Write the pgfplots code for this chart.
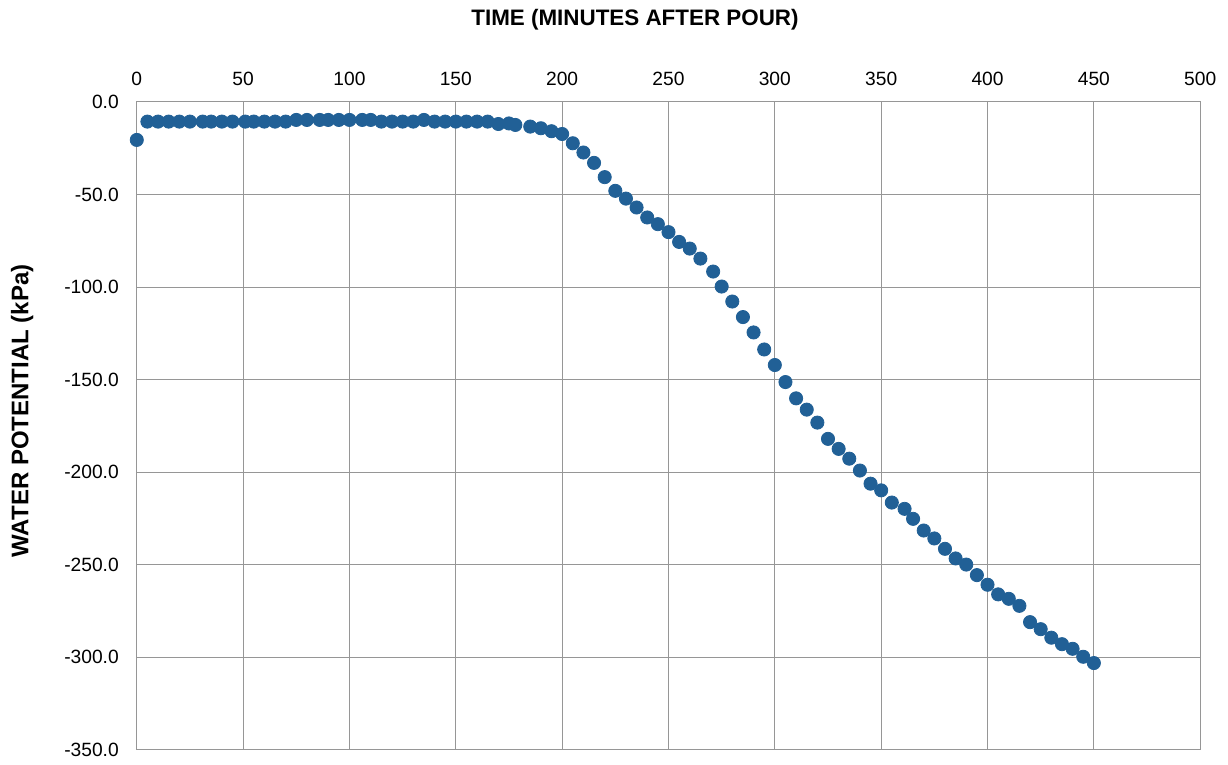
\documentclass[border=0pt]{standalone}
\usepackage{pgfplots}
\pgfplotsset{compat=1.18}
\usepackage{fontspec}
\setmainfont{Liberation Sans}
\definecolor{ptblue}{RGB}{33,96,150}
\definecolor{gridgray}{RGB}{150,150,150}
\begin{document}
\begin{tikzpicture}
\begin{axis}[
  scale only axis,
  width=531.8pt, height=324pt,
  xmin=0, xmax=500, ymin=-350, ymax=0,
  xtick={0,50,...,500},
  xticklabels={0,50,100,150,200,250,300,350,400,450,500},
  ytick={-350,-300,...,0},
  yticklabels={-350.0,-300.0,-250.0,-200.0,-150.0,-100.0,-50.0,0.0},
  xticklabel pos=upper,
  major tick length=0pt,
  grid=major,
  grid style={draw=gridgray, line width=0.5pt},
  axis line style={draw=gridgray, line width=0.5pt},
  tick label style={font=\fontsize{9.6pt}{11pt}\selectfont},
  xticklabel style={yshift=4.5pt},
  yticklabel style={xshift=-5.5pt},
  xlabel={\textbf{TIME (MINUTES AFTER POUR)}},
  ylabel={\textbf{WATER POTENTIAL (kPa)}},
  xlabel style={font=\fontsize{11.2pt}{13pt}\selectfont, at={(axis description cs:0.4685,1.1265)}, anchor=center},
  ylabel style={font=\fontsize{12pt}{14pt}\selectfont, at={(axis description cs:-0.1078,0.523)}, anchor=center},
  clip=false,
]
\addplot[only marks, mark=*, mark size=3.3pt, mark options={draw=ptblue, fill=ptblue}] coordinates {
(0,-20.5) (5,-10.6) (10,-10.6) (15,-10.6) (20,-10.6) (25,-10.6) (31,-10.6) (35,-10.6)
(40,-10.6) (45,-10.6) (51,-10.6) (55,-10.6) (60,-10.6) (65,-10.6) (70,-10.6) (75,-9.7)
(80,-9.7) (86,-9.7) (90,-9.7) (95,-9.7) (100,-9.7) (106,-9.7) (110,-9.7) (115,-10.6)
(120,-10.6) (125,-10.6) (130,-10.6) (135,-9.7) (140,-10.6) (145,-10.6) (150,-10.6)
(155,-10.6) (160,-10.6) (165,-10.6) (170,-11.9) (175,-11.6) (178,-12.4) (185,-13.3)
(190,-14.2) (195,-15.8) (200,-17.3) (205,-22.3) (210,-27.3) (215,-32.9) (220,-40.6)
(225,-48.0) (230,-52.2) (235,-57.0) (240,-62.4) (245,-66.0) (250,-70.3) (255,-75.6)
(260,-79.2) (265,-84.6) (271,-91.6) (275,-99.7) (280,-107.8) (285,-116.2) (290,-124.5)
(295,-133.7) (300,-142.1) (305,-151.3) (310,-160.1) (315,-166.2) (320,-173.2) (325,-182.0)
(330,-187.4) (335,-192.7) (340,-199.1) (345,-206.2) (350,-209.8) (355,-216.4) (361,-219.8)
(365,-225.2) (370,-231.5) (375,-235.8) (380,-241.4) (385,-246.6) (390,-249.9) (395,-255.6)
(400,-260.8) (405,-266.0) (410,-268.4) (415,-272.2) (420,-281.0) (425,-284.8) (430,-289.4)
(435,-292.9) (440,-295.4) (445,-299.7) (450,-303.1)
};
\coordinate (sw) at (rel axis cs:0,0);
\coordinate (ne) at (rel axis cs:1,1);
\end{axis}
\pgfresetboundingbox
\path[use as bounding box] ([xshift=-68.4pt,yshift=-7.5pt]sw) rectangle ([xshift=13.9pt,yshift=51pt]ne);
\end{tikzpicture}
\end{document}
